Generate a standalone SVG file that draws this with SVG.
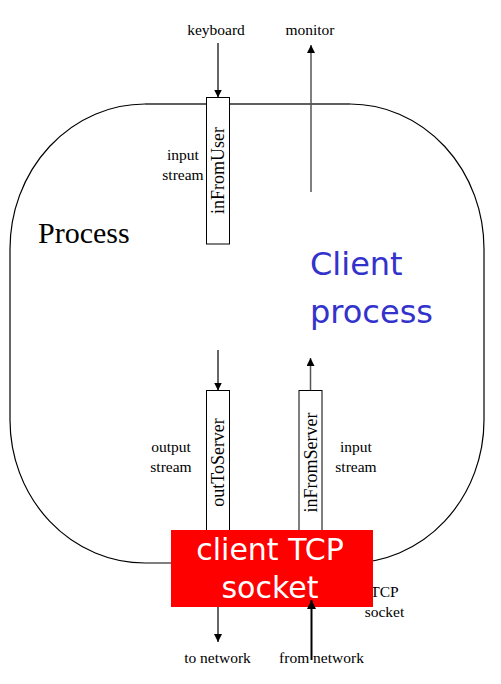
<svg xmlns="http://www.w3.org/2000/svg" width="501" height="684" viewBox="0 0 501 684">
<defs>
<style>
.t{font-family:"Liberation Serif","Times New Roman",serif;font-size:15.5px;fill:#000;text-anchor:middle}
.v{font-family:"Liberation Serif","Times New Roman",serif;font-size:18px;fill:#000;text-anchor:middle}
.box{fill:#fff;stroke:#000;stroke-width:1}
.ln{stroke:#000;stroke-width:1.2;fill:none}
.gl{stroke:#555;stroke-width:1.5;fill:none}
.big{font-family:"DejaVu Sans","Comic Sans MS",sans-serif;font-size:32px;fill:#3333cc}
.sock{font-family:"DejaVu Sans","Comic Sans MS",sans-serif;font-size:30px;fill:#fff;text-anchor:middle}
</style>
<marker id="ah" viewBox="0 0 10 10" refX="10" refY="5" markerWidth="8" markerHeight="8" markerUnits="userSpaceOnUse" orient="auto">
<path d="M0,0 L10,5 L0,10 z" fill="#000"/>
</marker>
<marker id="ah2" viewBox="0 0 10 10" refX="10" refY="5" markerWidth="9" markerHeight="9" markerUnits="userSpaceOnUse" orient="auto">
<path d="M0,0 L10,5 L0,10 z" fill="#000"/>
</marker>
</defs>
<rect width="501" height="684" fill="#fff"/>
<g id="process">
<path d="M145,104 L350,104 A134,145 0 0 1 484,249 L484,420 A134,143 0 0 1 350,563 L145,563 A135,143 0 0 1 10,420 L10,249 A135,145 0 0 1 145,104 Z" fill="none" stroke="#000" stroke-width="1.2"/>
<line x1="145" y1="104" x2="350" y2="104" stroke="#555" stroke-width="1.6"/>
<text x="38" y="243" style="font-family:'Liberation Serif','Times New Roman',serif;font-size:30px;fill:#000">Process</text>
<text class="big" x="310" y="275">Client</text>
<text class="big" x="310" y="323">process</text>
</g>
<g id="labels">
<text class="t" x="216" y="35">keyboard</text>
<text class="t" x="310" y="35">monitor</text>
<text class="t" x="183" y="160">input</text>
<text class="t" x="183" y="180">stream</text>
<text class="t" x="171" y="452">output</text>
<text class="t" x="171" y="472">stream</text>
<text class="t" x="356" y="452">input</text>
<text class="t" x="356" y="472">stream</text>
<text class="t" x="384.5" y="596.5">TCP</text>
<text class="t" x="384.5" y="616.5">socket</text>
<text class="t" x="217.5" y="663">to network</text>
<text class="t" x="321.5" y="663">from network</text>
</g>
<g id="connectors">
<line class="ln" x1="218" y1="43" x2="218" y2="97.5" marker-end="url(#ah)"/>
<line class="gl" x1="311" y1="192" x2="311" y2="45" marker-end="url(#ah)"/>
<line class="ln" x1="218" y1="350" x2="218" y2="390.5" marker-end="url(#ah)"/>
<line class="gl" x1="310.5" y1="390.5" x2="310.5" y2="358" marker-end="url(#ah)"/>
<line class="ln" x1="218" y1="607" x2="218" y2="642" marker-end="url(#ah)"/>
</g>
<g id="inFromUser">
<rect class="box" x="206.5" y="97.5" width="23" height="146.5"/>
<text class="v" transform="translate(224,170.5) rotate(-90)">inFromUser</text>
</g>
<g id="outToServer">
<rect class="box" x="206.5" y="390.5" width="23" height="170"/>
<text class="v" transform="translate(224,462.5) rotate(-90)">outToServer</text>
</g>
<g id="inFromServer">
<rect class="box" x="299" y="390.5" width="23" height="170"/>
<text class="v" transform="translate(316.5,462.5) rotate(-90)">inFromServer</text>
</g>
<g id="socket">
<rect x="171" y="530" width="202" height="77" fill="#ff0000"/>
<text class="sock" x="270" y="560">client TCP</text>
<text class="sock" x="270" y="598">socket</text>
</g>
<g id="fromnet">
<line x1="311.5" y1="660" x2="311.5" y2="600" stroke="#000" stroke-width="2" marker-end="url(#ah2)"/>
</g>
</svg>
